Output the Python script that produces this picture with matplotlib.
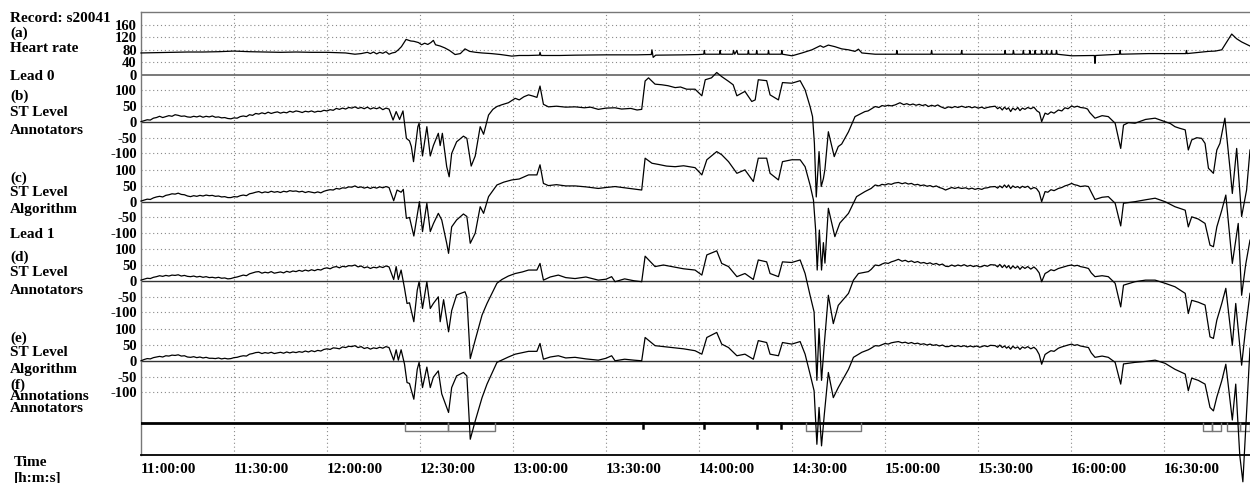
import matplotlib
matplotlib.use("Agg")
import matplotlib.pyplot as plt

# record s20041 -- all times are minutes after 11:00:00
hr_t = [0, 5, 10, 15, 20, 25, 30, 35, 40, 45, 50, 55, 60, 63, 66, 69, 71, 73, 74, 75, 76, 77, 78, 79, 80, 81, 82,
        83, 84, 85.5, 87, 88, 89.5, 90.5, 91.5, 92.5, 93.5, 94.3, 95, 96.5, 98, 99.5, 101.3, 103, 104.5, 106, 108,
        110, 113, 116, 119.6, 122, 125, 128.5, 128.7, 129, 135, 140, 150, 160, 164.6, 164.8, 165.2, 166, 175, 180,
        181.5, 181.7, 181.9, 186.6, 186.8, 187, 190.9, 191.1, 191.5, 192.2, 192.5, 195.7, 195.9, 196.1, 198.4,
        198.6, 198.8, 202.2, 202.4, 202.6, 206.5, 206.7, 206.9, 210, 213.2, 216.4, 219.1, 220.1, 221.7, 223.8, 226,
        228.2, 230.3, 231.4, 232.5, 236.8, 243.6, 243.8, 244, 254.8, 255, 255.2, 264.5, 264.7, 264.9, 271.2, 278.5,
        278.7, 278.9, 281.2, 281.4, 281.6, 284.4, 284.6, 284.8, 286.5, 286.7, 286.9, 288.2, 288.4, 288.6, 290.3,
        290.5, 290.7, 291.9, 292.1, 292.3, 293.5, 293.7, 293.9, 295.1, 295.3, 295.5, 300.2, 307.5, 307.7, 307.9,
        315.6, 315.8, 316, 325, 337, 337.2, 337.4, 344.3, 346.5, 348.6, 350.2, 351.8, 353.4, 355, 357.7]
hr_v = [70, 71, 72, 73, 73, 74, 76, 74, 73, 72, 73, 72, 72, 71, 70, 66, 68, 72, 68, 73, 67, 72, 69, 74, 66, 70, 72,
        80, 90, 113, 108, 107, 103, 96, 101, 97, 103, 110, 96, 92, 86, 78, 65, 68, 83, 75, 72,
        70, 68, 65, 60, 62, 62, 63, 72, 62, 62, 63, 64, 64, 65, 80, 56, 63, 64, 65,
        66, 78, 66, 66, 78, 66, 66, 78, 66, 78, 66, 66, 78, 66, 66,
        78, 66, 66, 78, 66, 66, 78, 66, 61, 70, 80, 93, 88, 95, 90, 83,
        80, 75, 82, 70, 66, 66, 78, 66, 66, 78, 66, 66, 78, 66, 66, 66,
        78, 66, 66, 78, 66, 66, 78, 66, 66, 78, 66, 66, 78, 66, 66,
        78, 66, 66, 78, 66, 66, 78, 66, 66, 78, 66, 61, 62, 37, 62,
        66, 78, 66, 68, 68, 78, 68, 75, 76, 80, 105, 130, 115, 105, 92]

# first 80 minutes, one reading per minute, for the four ST traces
early_t = list(range(0, 81))
b_early = [1, 4, 7, 6, 12, 14, 18, 14, 17, 20, 18, 23, 21, 18, 19, 16, 15, 18, 16, 19,
           15, 18, 16, 19, 15, 16, 13, 14, 11, 10, 13, 12, 17, 19, 17, 23, 21, 27, 25, 29,
           26, 31, 27, 30, 32, 28, 31, 29, 34, 31, 35, 33, 30, 34, 32, 35, 31, 34, 33, 37,
           35, 39, 37, 43, 40, 44, 41, 46, 44, 48, 43, 46, 42, 47, 41, 45, 42, 46, 39, 44, 41]
c_early = [2, 5, 8, 7, 12, 15, 17, 15, 20, 22, 25, 24, 27, 23, 22, 18, 16, 19, 17, 20,
           18, 21, 19, 20, 17, 18, 15, 16, 13, 13, 16, 15, 19, 21, 19, 25, 27, 30, 32, 28,
           31, 29, 33, 30, 32, 29, 33, 31, 35, 33, 34, 31, 33, 29, 32, 30, 28, 31, 28, 33,
           36, 38, 37, 42, 40, 44, 43, 47, 46, 50, 45, 47, 43, 46, 42, 46, 43, 47, 44, 48, 45]
d_early = [2, 5, 8, 7, 11, 13, 16, 14, 17, 15, 18, 17, 19, 15, 17, 14, 13, 15, 12, 14,
           11, 13, 10, 11, 9, 11, 8, 9, 6, 7, 10, 12, 15, 18, 16, 22, 25, 28, 29, 24,
           27, 25, 29, 24, 26, 28, 25, 30, 27, 31, 29, 33, 30, 34, 31, 35, 32, 36, 34, 39,
           41, 38, 43, 45, 41, 46, 44, 48, 47, 50, 44, 47, 41, 44, 39, 43, 41, 45, 42, 47, 44]
e_early = [0, 4, 7, 6, 10, 12, 14, 12, 16, 15, 18, 17, 19, 15, 16, 12, 11, 13, 10, 12,
           9, 11, 8, 8, 7, 9, 6, 8, 6, 7, 10, 11, 14, 16, 15, 21, 23, 26, 27, 23,
           26, 24, 27, 23, 25, 27, 24, 28, 25, 28, 26, 29, 27, 31, 28, 32, 29, 33, 31, 36,
           38, 36, 41, 40, 38, 44, 42, 46, 45, 48, 42, 45, 39, 42, 37, 41, 39, 43, 40, 45, 42]

# (b) lead 0, ST level, annotators
b_t1 = [81.3, 82.3, 83.4, 84.5, 85.6, 86.6, 87.2, 87.9, 89.3, 89.7, 90.8, 92.2, 93.3, 94.3, 95.9, 96.5, 97.2,
        98.6, 99.4, 100.2, 101.8, 104, 105.1, 106.5, 107.8, 109.4, 110.5, 112.1, 113.5, 114.8, 116.5, 118.5,
        120.7, 122, 123.5, 125, 126.5, 127.7, 128.7, 129.8, 131.4, 134, 137, 140, 143, 145, 147.5, 150, 152.9,
        155, 158, 160, 161.5, 162.6, 163.7, 165.8, 168, 170, 172.3, 174, 176, 178.7, 180.9, 182, 184, 185.7,
        187.3, 189.5, 191, 192.2, 194.8, 197, 198.1, 199.1, 201.8, 202.9, 205.6, 206.9, 209.9, 212.6, 214.2,
        215.8, 216.6, 217.2, 217.8, 218.7, 219.4, 220.1, 220.6, 221.7, 222.6, 223.6, 224.9, 226, 228.2, 230.3,
        232.5]
b_v1 = [6, 33, 8, 35, -52, -60, -78, -126, -15, -4, -108, -15, -108, -75, -36, -75, -36,
        -142, -174, -100, -63, -45, -52, -140, -108, -15, -39, 22, 40, 49, 55, 61,
        75, 70, 80, 86, 82, 78, 114, 56, 48, 50, 47, 48, 45, 47, 40, 44, 45,
        41, 43, 38, 40, 130, 140, 120, 118, 115, 109, 111, 104, 104, 83, 134, 140, 157,
        144, 129, 118, 83, 97, 65, 70, 134, 131, 86, 70, 125, 123, 131, 102,
        49, 17, -68, -238, -94, -205, -180, -150, -31, -68, -110, -78, -70, -31, 17,
        28]
b_t2 = [233.5, 234.5, 235.5, 236.8, 238, 239, 240, 241, 242, 243.2, 244.8, 246, 247, 248, 249, 250, 251, 252,
        253, 254, 255, 256, 257, 258, 259.3, 260.5, 261.5, 262.5, 263.5, 264.7, 266, 267, 268, 269, 270, 271.2,
        272, 273, 274, 275.5, 276.3, 277, 277.8, 278.5, 279.2, 279.8, 280.5, 281.2, 282, 282.8, 283.5, 284.3,
        285.1, 286, 287, 288, 289, 289.8, 290.5, 291.6, 292.5, 293.5, 294.5, 295.9, 297, 298, 299, 300.2, 301,
        302, 303, 304.5, 305.3]
b_v2 = [33, 35, 41, 49, 46, 52, 50, 53, 51, 54, 61, 55, 58, 54, 57, 53, 56, 52,
        55, 49, 53, 50, 54, 48, 43, 48, 45, 49, 46, 50, 46, 49, 45, 48, 44, 47,
        43, 46, 48, 50, 42, 47, 38, 47, 40, 45, 33, 44, 38, 46, 36, 44,
        40, 46, 42, 47, 35, 30, 1, 28, 24, 32, 28, 38, 35, 45, 42, 51, 47,
        50, 46, 44, 41]
b_t3 = [306, 307.7, 310, 312, 314.2, 316, 316.9, 318.5, 320.6, 324, 327.1, 330.3, 332, 333.5, 335, 336.8,
        337.8, 338.9, 340.5, 342.1, 343.2, 344.3, 345.9, 347, 348, 349.6, 351.3, 352, 353.4, 355, 356.6, 357.7]
b_v3 = [30, 12, 20, 17, -4, -84, -10, -2, -4, 8, 12, 1, -5, -15, -20, -25,
        -89, -57, -50, -52, -68, -147, -163, -89, -68, 12, -153, -227, -84, -300, -216, -89]

# (c) lead 0, ST level, algorithm
c_t1 = [81.5, 82.6, 83.9, 84.6, 85.6, 86.6, 88, 89.8, 90.8, 92.2, 93.3, 94.3, 95.9, 97, 98.6, 99.2, 100.2,
        101.8, 104, 105.1, 106.2, 107.8, 109.4, 110.5, 112.1, 114.8, 117, 119.6, 122, 125, 127.7, 128.7, 129.8,
        131.4, 134, 137, 140, 143.5, 147.5, 150, 152.9, 156, 159, 161.5, 162.6, 164.8, 167, 169.5, 172.3, 175,
        178.7, 180.9, 182.5, 185.7, 187.3, 189.5, 192.2, 194.8, 197.5, 199.1, 201.8, 202.9, 205.6, 206.9, 209.9,
        212.6, 214.2, 215.8, 216.9, 217.6, 218.1, 218.8, 219.5, 220.1, 220.6, 221.7, 222.8, 223.8, 225.4, 228.2,
        230.8]
c_v1 = [3, 37, 30, 39, -53, -50, -109, 0, -95, -5, -95, -70, -37, -58, -132, -164, -80,
        -58, -39, -47, -132, -100, -16, -37, 16, 53, 62, 69, 72, 85, 85, 117, 58,
        51, 54, 50, 50, 47, 42, 45, 48, 44, 40, 37, 138, 122, 118, 113, 111, 114,
        108, 85, 133, 159, 149, 127, 90, 101, 64, 138, 138, 90, 69, 127, 133,
        133, 111, 53, 5, -90, -217, -90, -217, -130, -195, -21, -68, -111, -68, -37,
        16]
c_t2 = [233.5, 234.5, 235.5, 236.8, 238, 239, 240, 241, 242, 243, 244.3, 245.5, 246.5, 247.5, 248.5, 249.5,
        250.5, 251.5, 252.5, 253.5, 254.5, 255.5, 256.5, 257.5, 258.5, 259.5, 260.5, 261.5, 262.5, 263.5, 264.7,
        266, 267, 268, 269, 270, 271.2, 272, 273, 274, 275.5, 276.3, 277, 277.8, 278.5, 279.2, 279.8, 280.5,
        281.2, 282, 282.8, 283.5, 284.3, 285.1, 286, 287, 288, 288.8, 289.7, 290.5, 291.6, 292.5, 293.5, 294.5,
        295.9, 297, 298, 299, 300.2, 301, 302, 303, 304.5, 305.6, 306.5]
c_v2 = [32, 37, 42, 53, 50, 55, 53, 57, 55, 59, 61, 57, 60, 56, 58, 53,
        55, 51, 53, 49, 51, 47, 50, 45, 42, 37, 41, 45, 42, 45, 42,
        44, 40, 43, 39, 42, 39, 43, 44, 47, 48, 43, 50, 44, 53, 45, 53, 42,
        50, 45, 48, 43, 49, 45, 49, 40, 45, 42, 30, 0, 32, 30, 38, 35,
        42, 45, 50, 53, 58, 54, 52, 48, 50, 48, 30]
c_t3 = [307.7, 310, 312, 314.2, 316, 316.9, 320.6, 324, 327.1, 330.3, 333.5, 336.8, 337.8, 338.9, 341, 343.2,
        344.8, 345.9, 347, 348.6, 349.9, 352, 353.9, 355, 356.3, 357.7]
c_v3 = [7, 14, 16, -5, -77, -5, 0, 6, 11, 0, -16, -27, -80, -48, -55, -69,
        -138, -143, -80, -27, 21, -196, -69, -297, -200, -122]

# (d) lead 1, ST level, annotators
d_t1 = [81.5, 82.3, 83, 83.9, 85, 85.8, 86.6, 88, 89.1, 89.7, 90.8, 92.2, 93.3, 94.3, 95.9, 96.5, 97.6, 99.2,
        100.2, 101.8, 104.5, 105.1, 106.2, 107.8, 110, 111.6, 114.8, 116.4, 118.5, 120.7, 123, 125, 127.7, 128.7,
        129.8, 132, 134.6, 137, 140, 143.5, 147.5, 150, 151.8, 152.9, 156, 159, 161.5, 162.6, 165.8, 168.5,
        171.2, 175, 178.7, 180.9, 182.5, 185.7, 187.3, 189.5, 192.2, 194.8, 197.5, 199.1, 201.8, 202.9, 205.6,
        206.9, 209.9, 212.6, 214.2, 215.8, 217.1, 218, 218.7, 219.5, 220.4, 221.7, 223.3, 224.9, 228.2, 229.8,
        231.4]
d_v1 = [4, 45, 4, 34, -24, -72, -70, -130, -30, -3, -88, -3, -88, -72, -51, -130, -60, -162,
        -95, -45, -35, -51, -247, -188, -109, -72, -8, 4, 15, 23, 28, 34, 34, 55,
        2, 12, 18, 10, 7, 12, 2, 5, 13, -3, 6, 0, -3, 78, 45, 50,
        45, 38, 34, 18, 82, 95, 55, 45, 13, 23, 4, 66, 60, 23, 13,
        60, 58, 66, 23, -46, -99, -316, -152, -316, -200, -46, -136, -78, -40, 2,
        23]
st_mid_t = [234.6, 235.5, 236.8, 238, 239, 240, 241, 242, 243, 244.3, 245.5, 246.5, 247.5, 248.5, 249.5, 250.5,
            251.5, 252.5, 253.5, 254.5, 255.5, 256.5, 257.5, 258.5, 259.5, 260.4, 261.5, 262.5, 263.5, 264.5,
            265.5, 266.5, 267.5, 268.5, 269.5, 270.5, 271.2, 272, 273, 274, 275.5, 276.3, 277, 277.8, 278.5,
            279.2, 279.8, 280.5, 281.2, 282, 282.8, 283.5, 284.3, 285.1, 286, 287, 288, 288.8, 289.7, 290.5,
            291.6, 292.5, 293.5, 294.5, 295.9, 297, 298, 299, 300.2, 301, 302, 303, 304.5, 305.6, 306.5]
d_v2 = [29, 36, 50, 48, 53, 57, 55, 60, 63, 68, 62, 65, 60, 63, 58, 61,
        56, 58, 54, 57, 52, 55, 50, 53, 46, 45, 50, 46, 50, 47,
        51, 46, 49, 45, 48, 44, 45, 49, 46, 51, 50, 44, 52, 42, 50,
        41, 48, 38, 47, 40, 46, 36, 45, 39, 45, 37, 44, 37, 25, -3,
        23, 28, 35, 32, 39, 42, 45, 48, 50, 47, 49, 45, 42, 39, 25]
d_t3 = [307.7, 310, 312, 314.2, 316, 316.9, 320.6, 324, 327.1, 330.3, 333.5, 336.8, 337.8, 338.9, 341, 343.2,
        344.8, 345.9, 347, 348.6, 349.9, 352, 353.1, 355, 356.3, 357.7]
d_v3 = [13, 16, 13, -8, -83, -14, -3, 2, 2, -8, -19, -40, -104, -62, -68, -77,
        -178, -183, -125, -72, -24, -205, -72, -268, -150, -40]

# (e) lead 1, ST level, algorithm
e_t1 = [81.5, 82.3, 83, 83.9, 85, 85.8, 86.6, 88, 89.1, 89.7, 90.8, 92.2, 93.3, 94.3, 95.9, 97, 99.2, 100.2,
        101.8, 104, 105.1, 106.2, 107.8, 110, 111.6, 114.8, 117, 118.5, 120.7, 123, 125, 127.7, 128.7, 129.8,
        132, 134.6, 137, 140, 143.5, 147.5, 150, 151.8, 152.9, 156, 159, 161.5, 162.6, 165.8, 168.5, 171.2,
        175, 178.7, 180.9, 182.5, 185.7, 187.3, 189.5, 192.2, 194.8, 197.5, 199.1, 201.8, 202.9, 205.6, 206.9,
        209.9, 212.6, 214.2, 215.8, 217.1, 218, 218.7, 219.5, 220.4, 221.7, 223.3, 224.9, 228.2, 229.8, 232.5]
e_v1 = [2, 35, 2, 35, -11, -69, -72, -122, -27, -5, -85, -20, -85, -52, -32, -105, -164, -85,
        -48, -37, -48, -249, -191, -117, -74, -5, 5, 12, 21, 26, 30, 30, 55, 5,
        12, 16, 9, 11, 6, 2, 8, 16, 0, 5, 2, 0, 74, 48, 45, 42,
        38, 32, 21, 74, 90, 53, 42, 16, 21, 5, 64, 58, 21, 16, 58,
        53, 61, 21, -42, -95, -265, -148, -270, -170, -37, -117, -85, -27, 11, 27]
e_v2 = [35, 40, 48, 47, 51, 55, 53, 57, 59, 61, 57, 59, 55, 58, 54, 56,
        52, 54, 50, 53, 49, 51, 47, 50, 45, 45, 49, 45, 48, 45,
        48, 44, 47, 44, 47, 43, 45, 48, 45, 49, 48, 43, 50, 42, 47,
        40, 45, 37, 46, 40, 44, 36, 44, 40, 45, 38, 43, 36, 20, -11,
        20, 26, 32, 30, 40, 44, 47, 50, 53, 49, 51, 47, 44, 42, 25]
e_t3 = [307.7, 310, 312, 314.2, 316, 316.9, 320.6, 324, 327.1, 330.3, 333.5, 336.8, 337.8, 338.9, 341, 343.2,
        344.8, 345.9, 347, 348.6, 349.9, 352, 353.1, 354.4, 355.4, 356.5, 357.7]
e_v3 = [11, 15, 11, -5, -74, -10, -5, -2, 2, -8, -27, -42, -95, -55, -62, -74,
        -148, -159, -115, -63, -11, -188, -74, -300, -384, -180, 40]

# (f) annotations, annotators
episode_start = [85.2, 99, 214.5, 342.6, 345.5, 350.2, 354.5]
episode_end = [99, 114.2, 232.3, 345.5, 348.5, 354.5, 357.7]
event_t = [162, 181.6, 198.7, 206.5]

time_ticks = [0, 30, 60, 90, 120, 150, 180, 210, 240, 270, 300, 330]
time_labels = ["11:00:00", "11:30:00", "12:00:00", "12:30:00", "13:00:00", "13:30:00", "14:00:00",
               "14:30:00", "15:00:00", "15:30:00", "16:00:00", "16:30:00"]
hr_ticks = [160, 120, 80, 40, 0]
st_ticks = [100, 50, 0, -50, -100]

b_t = early_t + b_t1 + b_t2 + b_t3
b_v = b_early + b_v1 + b_v2 + b_v3
c_t = early_t + c_t1 + c_t2 + c_t3
c_v = c_early + c_v1 + c_v2 + c_v3
d_t = early_t + d_t1 + st_mid_t + d_t3
d_v = d_early + d_v1 + d_v2 + d_v3
e_t = early_t + e_t1 + st_mid_t + e_t3
e_v = e_early + e_v1 + e_v2 + e_v3

# vertical placement of the channels (same units as the signals)
off_hr = 1206
off_st = [1057, 804, 553, 299]
off_ann = 102.5
ann_depth = 25

W, H = 1250, 483
plt.rcParams['font.family'] = ['Liberation Serif', 'DejaVu Serif']
plt.rcParams['font.weight'] = 'bold'

fig = plt.figure(figsize=(W / 100, H / 100), dpi=100)
ax = fig.add_axes([141 / W, 1 - 455 / H, 1 - 141 / W, (455 - 12) / H])
ax.set_xlim(0, 357.7)
ax.set_ylim(0, 1406)

grid_kw = dict(color="#8a8a8a", lw=0.8, ls=(0, (1, 2.5)), zorder=1)
for t in time_ticks[1:]:
    ax.axvline(t, **grid_kw)

yt, yl = [], []
for v in hr_ticks:
    yt.append(off_hr + v)
    yl.append(str(v))
    if v != 0:
        ax.axhline(off_hr + v, **grid_kw)
ax.axhline(off_hr, color="#555555", lw=1.1, zorder=2)
for off in off_st:
    for v in st_ticks:
        yt.append(off + v)
        yl.append(str(v))
        if v != 0:
            ax.axhline(off + v, **grid_kw)
    ax.axhline(off, color="#333333", lw=1.0, zorder=2)
ax.axhline(off_ann, color="black", lw=2.0, zorder=3)

line_kw = dict(color="black", lw=0.9, zorder=4, clip_on=False)
ax.plot(hr_t, [off_hr + v for v in hr_v], **line_kw)
for tt, vv, off in zip([b_t, c_t, d_t, e_t], [b_v, c_v, d_v, e_v], off_st):
    ax.plot(tt, [off + v for v in vv], **line_kw)

for s, e in zip(episode_start, episode_end):
    ax.plot([s, s, e, e], [off_ann, off_ann - ann_depth, off_ann - ann_depth, off_ann],
            color="#777777", lw=1.0, zorder=3, clip_on=False)
for t in event_t:
    ax.plot([t, t], [off_ann, off_ann - 18], color="black", lw=1.8, zorder=3)

ax.set_yticks(yt)
ax.set_yticklabels(yl, fontsize=10.5, fontweight="bold")
ax.set_xticks(time_ticks)
ax.set_xticklabels(time_labels, fontsize=11, fontweight="bold", ha="left")
ax.tick_params(axis="both", length=0)
ax.tick_params(axis="y", pad=3)
ax.tick_params(axis="x", pad=6)

for side in ["left", "top"]:
    ax.spines[side].set_color("#777777")
    ax.spines[side].set_linewidth(1.0)
ax.spines["right"].set_visible(False)
ax.spines["bottom"].set_color("black")
ax.spines["bottom"].set_linewidth(1.3)

labels = [(10, 19, "Record: s20041"), (10, 33, "(a)"), (10, 49, "Heart rate"), (10, 76, "Lead 0"),
          (10, 96, "(b)"), (10, 113, "ST Level"), (10, 131, "Annotators"),
          (10, 178, "(c)"), (10, 193, "ST Level"), (10, 210, "Algorithm"), (10, 234, "Lead 1"),
          (10, 257, "(d)"), (10, 273, "ST Level"), (10, 290, "Annotators"),
          (10, 338, "(e)"), (10, 353, "ST Level"), (10, 370, "Algorithm"),
          (10, 385, "(f)"), (10, 397, "Annotations"), (10, 408, "Annotators"),
          (14, 463, "Time"), (14, 478, "[h:m:s]")]
for x, y, s in labels:
    fig.text(x / W, 1 - y / H, s, fontsize=11, fontweight="bold", ha="left", va="center")

fig.savefig("out.png", dpi=100)
